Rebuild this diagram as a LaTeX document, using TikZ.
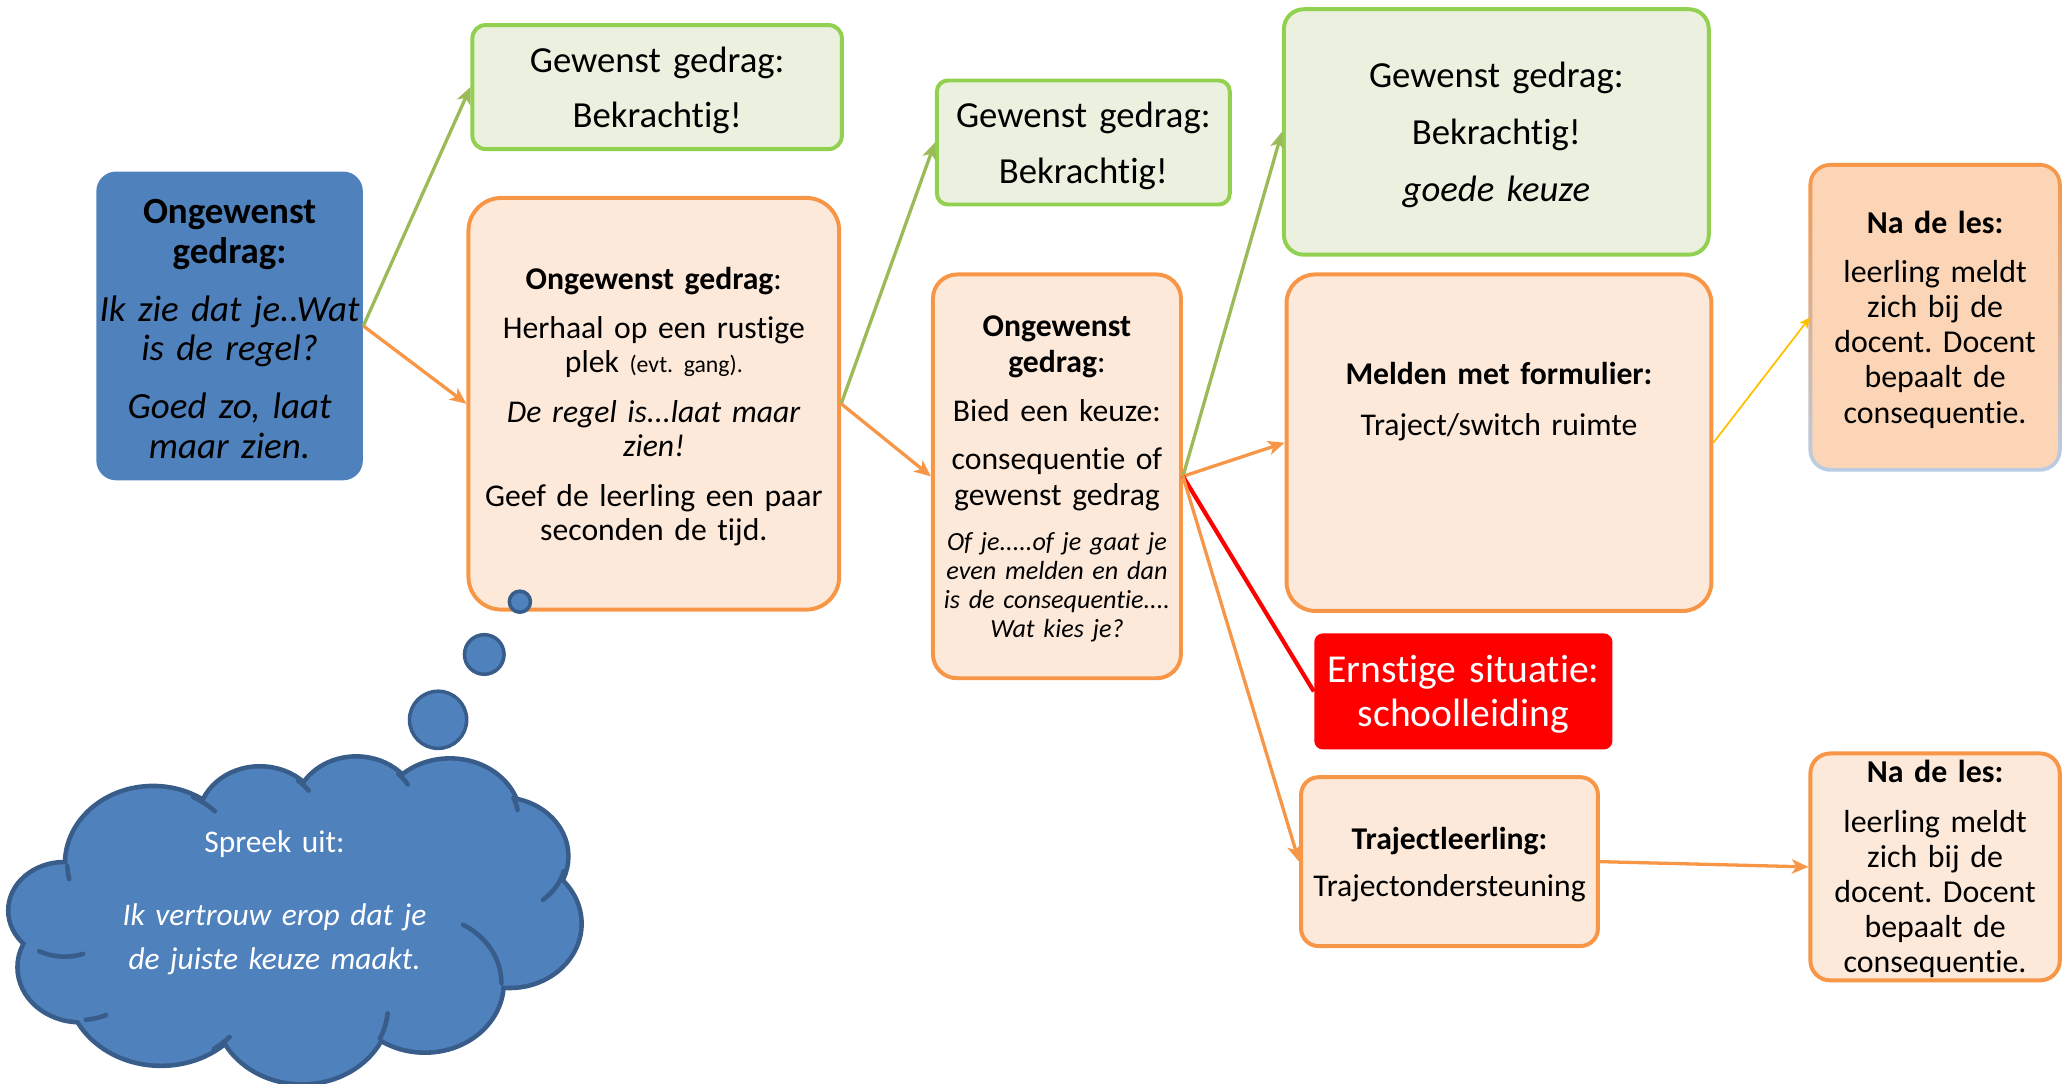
\documentclass[tikz,border=0pt]{standalone}
\usepackage{fontspec}
\setmainfont[Ligatures=NoCommon]{Carlito}
\frenchspacing
\usetikzlibrary{arrows.meta,shapes.geometric}
\definecolor{cblue}{HTML}{4F81BD}
\definecolor{cbluedark}{HTML}{385D8A}
\definecolor{cgreen}{HTML}{92D050}
\definecolor{cgreenfill}{HTML}{EBF1DE}
\definecolor{corange}{HTML}{F79646}
\definecolor{cpeach}{HTML}{FDE9D9}
\definecolor{cpeachdark}{HTML}{FBD5B5}
\definecolor{cgline}{HTML}{9BBB59}
\definecolor{cyellow}{HTML}{FFC000}
\definecolor{cltblue}{HTML}{B9CDE5}
\definecolor{cred}{HTML}{FF0000}
\newcommand{\fs}[2]{\fontsize{#1pt}{#2pt}\selectfont}
\begin{document}
\begin{tikzpicture}[x=0.6pt,y=-0.6pt,
  gbox/.style={draw=cgreen, fill=cgreenfill, line width=1.8pt, inner sep=0pt},
  obox/.style={draw=corange, fill=cpeach, line width=1.8pt, inner sep=0pt},
  bbox/.style={fill=cblue, inner sep=0pt},
  rbox/.style={fill=cred, inner sep=0pt},
  plainbox/.style={inner sep=0pt},
  txt/.style={align=center, inner sep=0pt, text width=#1, yshift=-1.4pt},
  bubble/.style={circle, draw=cbluedark, fill=cblue, line width=1.6pt, inner sep=0pt},
  tipA/.tip={Stealth[length=7.5pt,width=6.5pt,inset=2pt]},
  garrow/.style={draw=cgline, line width=1.5pt, -tipA},
  oarrow/.style={draw=corange, line width=1.5pt, -tipA},
  rline/.style={draw=cred, line width=1.9pt},
  yarrow/.style={draw=cyellow, line width=0.8pt, -{Stealth[length=5pt,width=4.5pt,inset=1.5pt]}},
  cloudarc/.style={draw=cbluedark, line width=2.1pt, line cap=round}
]
\useasboundingbox (0,0) rectangle (1568,821);

% ---------- boxes ----------
\node[bbox, rounded corners=9pt, minimum width=121.2pt, minimum height=140.4pt] (A) at (174,247) {};
\node[gbox, rounded corners=6pt, minimum width=168pt, minimum height=56.4pt] (G1) at (498,66) {};
\node[obox, rounded corners=15pt, minimum width=168.6pt, minimum height=187.2pt] (B) at (495.5,306) {};
\node[gbox, rounded corners=5pt, minimum width=133.2pt, minimum height=56.4pt] (G2) at (821,108) {};
\node[obox, rounded corners=11pt, minimum width=112.8pt, minimum height=183.6pt] (C) at (801,361) {};
\node[gbox, rounded corners=9pt, minimum width=193.2pt, minimum height=111.6pt] (G3) at (1134,100) {};
\node[obox, rounded corners=13pt, minimum width=193.2pt, minimum height=153pt] (D) at (1136,335.5) {};
\node[rbox, rounded corners=4pt, minimum width=135.6pt, minimum height=52.8pt] (E) at (1109,524) {};
\node[obox, rounded corners=8pt, minimum width=135pt, minimum height=76.8pt] (F) at (1098.5,653) {};
\shade[top color=corange, bottom color=cltblue, middle color=corange!50!cltblue, rounded corners=10pt] (1370.5,123.5) rectangle (1562.5,357.5);
\fill[cpeachdark, rounded corners=8pt] (1373.5,126.5) rectangle (1559.5,354.5);
\node[plainbox, minimum width=113.4pt, minimum height=138.6pt] (H1) at (1466.5,240.5) {};
\node[obox, rounded corners=9pt, minimum width=113.4pt, minimum height=103.2pt] (H2) at (1466.5,657) {};

% ---------- texts ----------
\node[txt=150pt, font=\fs{16.8}{18}] (At) at (174,247) {%
  \textbf{Ongewenst}\\\textbf{gedrag:}\\[8.4pt]
  \textit{Ik zie dat je..Wat}\\\textit{is de regel?}\\[8.4pt]
  \textit{Goed zo, laat}\\\textit{maar zien.}};
\node[txt=160pt, font=\fs{16.7}{25.2}] (G1t) at (498,66) {Gewenst gedrag:\\Bekrachtig!};
\node[txt=160pt, font=\fs{16.7}{25.5}] (G2t) at (821,108) {Gewenst gedrag:\\Bekrachtig!};
\node[txt=180pt, font=\fs{16.7}{25.8}] (G3t) at (1134,100) {Gewenst gedrag:\\Bekrachtig!\\\textit{goede keuze}};
\node[txt=160pt, font=\fs{14.4}{15.6}] (Bt) at (495.5,306) {%
  \textbf{Ongewenst gedrag}:\\[6.6pt]
  Herhaal op een rustige\\plek {\fs{10.8}{15.6}(evt. gang).}\\[7pt]
  \textit{De regel is...laat maar}\\\textit{zien!}\\[7pt]
  Geef de leerling een paar\\seconden de tijd.};
\node[txt=130pt, font=\fs{14.4}{16.2}] (Ct) at (801,311) {%
  \textbf{Ongewenst}\\\textbf{gedrag}:\\[6pt]
  Bied een keuze:\\[6pt]
  consequentie of\\gewenst gedrag};
\node[txt=130pt, font=\fs{11.9}{13.2}] (Cit) at (801,443) {%
  \textit{Of je.....of je gaat je}\\\textit{even melden en dan}\\\textit{is de consequentie....}\\\textit{Wat kies je?}};
\node[txt=180pt, font=\fs{14.4}{22.8}] (Dt) at (1136,302) {%
  \textbf{Melden met formulier:}\\Traject/switch ruimte};
\node[txt=140pt, text=white, font=\fs{18}{19.8}] (Et) at (1109,524) {Ernstige situatie:\\schoolleiding};
\node[txt=140pt, font=\fs{14.4}{21.6}] (Ft) at (1098.5,653) {%
  \textbf{Trajectleerling:}\\Trajectondersteuning};
\node[txt=110pt, font=\fs{14.5}{16}] (H1t) at (1466.5,240) {%
  \textbf{Na de les:}\\[6.2pt]
  leerling meldt\\zich bij de\\docent. Docent\\bepaalt de\\consequentie.};
\node[txt=110pt, font=\fs{14.5}{15.9}] (H2t) at (1466.5,656) {%
  \textbf{Na de les:}\\[6.9pt]
  leerling meldt\\zich bij de\\docent. Docent\\bepaalt de\\consequentie.};

% ---------- connectors ----------
\draw[garrow] (A.east) -- (G1.west);
\draw[oarrow] (A.east) -- (B.west);
\draw[garrow] (B.east) -- (G2.west);
\draw[oarrow] (B.east) -- (C.west);
\draw[garrow] (C.east) -- (G3.west);
\draw[oarrow] (C.east) -- (D.west);
\draw[rline] (C.east) -- (E.west);
\draw[oarrow] (C.east) -- (F.west);
\draw[yarrow] (D.east) -- (H1.west);
\draw[oarrow] (F.east) -- (H2.west);

% ---------- thought bubbles ----------
\node[bubble, minimum size=9.6pt] (s1) at (394,456) {};
\node[bubble, minimum size=18pt] (s2) at (367,496) {};
\node[bubble, minimum size=26pt] (s3) at (332,545.5) {};

% ---------- cloud ----------
\foreach \cx/\cy/\rx/\ry in {116/654.4/65/57, 197/621.5/45/39, 270/614/45/39, 341/621.5/52/45,
  380/649/49/43, 386/700/53/47, 322/745/58/51, 229/763/65/57, 122/745/70/61, 61/733/46/40, 49/690/41/35}
  \draw[draw=cbluedark, fill=cblue, line width=4.2pt] (\cx,\cy) ellipse [x radius=\rx, y radius=\ry];
\foreach \cx/\cy/\rx/\ry in {116/654.4/65/57, 197/621.5/45/39, 270/614/45/39, 341/621.5/52/45,
  380/649/49/43, 386/700/53/47, 322/745/58/51, 229/763/65/57, 122/745/70/61, 61/733/46/40, 49/690/41/35}
  \fill[cblue] (\cx,\cy) ellipse [x radius=\rx, y radius=\ry];
\fill[cblue] (230,690) ellipse [x radius=150, y radius=75];
\foreach \cx/\cy/\rx/\ry/\sa/\ea in {49/690/41/35/70/118, 116/654.4/65/57/168/178, 116/654.4/65/57/-62/-44,
  197/621.5/45/39/-50/-35, 270/614/45/39/-45/-30, 341/621.5/52/45/-22/-10, 380/649/49/43/15/50,
  322/745/58/51/-60/0, 229/763/65/57/5/25, 122/745/70/61/42/55, 61/733/46/40/65/85}
  \draw[cloudarc] ({\cx+\rx*cos(\sa)},{\cy+\ry*sin(\sa)}) arc [start angle=\sa, end angle=\ea, x radius=\rx, y radius=\ry];
\node[txt=170pt, text=white, font=\fs{14.3}{20.4}] (cloudt) at (208,682) {%
  Spreek uit:\\[12.6pt]
  \textit{Ik vertrouw erop dat je}\\\textit{de juiste keuze maakt.}};
\end{tikzpicture}
\end{document}
